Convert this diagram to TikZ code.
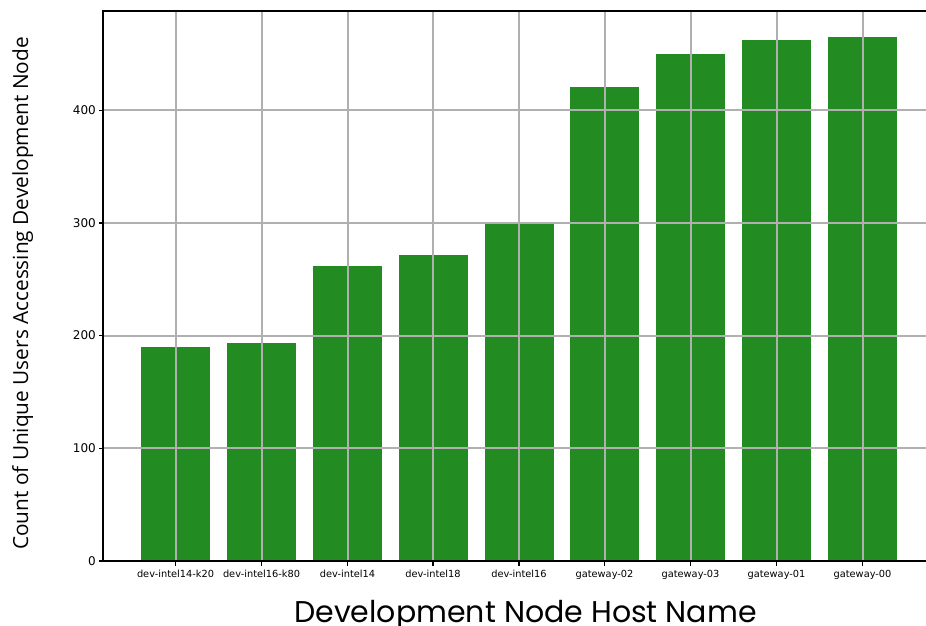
\documentclass[tikz,border=0pt]{standalone}
\usepackage{fontspec}
\setmainfont{DejaVu Sans}
\newfontfamily\ytitlefont{Open Sans}
\newfontfamily\xtitlefont{Poppins}
\definecolor{bargreen}{HTML}{228B22}
\definecolor{gridgray}{HTML}{B0B0B0}
\begin{document}
\begin{tikzpicture}[x=1pt,y=1pt,
  bar/.style={fill=bargreen,draw=none},
  gridline/.style={draw=gridgray,line width=2pt},
  spine/.style={draw=black,line width=2.2pt},
  ticklabel/.style={font=\fontsize{12}{14}\selectfont,inner sep=0pt},
  catlabel/.style={font=\fontsize{9.8}{11}\selectfont,inner sep=0pt}]
\useasboundingbox (0,0) rectangle (926,625);
% axis frame: bottom at y=64, top at y=614, left at x=103; 1 unit = 1.127pt
\def\yb{64}
\def\ys{1.127}
% bars
\foreach \c/\v in {175.5/190,261.5/193.5,347.5/262,433/271.5,519/299,604.5/420.5,690.5/450,776.5/462,862.5/465}{
  \fill[bar] (\c-34.5,\yb) rectangle (\c+34.5,{\yb+\v*\ys});
}
% grid drawn over the bars
\foreach \v in {100,200,300,400}{
  \draw[gridline] (103,{\yb+\v*\ys}) -- (926,{\yb+\v*\ys});
}
\foreach \c in {175.5,261.5,347.5,433,519,604.5,690.5,776.5,862.5}{
  \draw[gridline] (\c,\yb) -- (\c,614);
}
% spines
\draw[spine] (926,614) -- (103,614) -- (103,\yb) -- (926,\yb);
% y ticks and labels
\foreach \v in {0,100,200,300,400}{
  \draw[line width=1.2pt] (103,{\yb+\v*\ys}) -- (98.5,{\yb+\v*\ys});
  \node[ticklabel,anchor=east] (y\v) at (96,{\yb+\v*\ys}) {\v};
}
% x ticks and category labels
\foreach \c/\n [count=\i] in {175.5/dev-intel14-k20,261.5/dev-intel16-k80,347.5/dev-intel14,433/dev-intel18,519/dev-intel16,604.5/gateway-02,690.5/gateway-03,776.5/gateway-01,862.5/gateway-00}{
  \draw[line width=1.2pt] (\c,\yb) -- (\c,\yb-4.5);
  \node[catlabel,anchor=base] (x\i) at (\c,48) {\n};
}
% axis titles
\node[font=\xtitlefont\fontsize{30}{33}\selectfont,anchor=base,inner sep=0pt] (xtitle) at (525.5,2.5) {Development Node Host Name};
\node[font=\ytitlefont\fontsize{20.8}{24}\selectfont,rotate=90,anchor=base,inner sep=0pt] (ytitle) at (28,331.5) {Count of Unique Users Accessing Development Node};
\end{tikzpicture}
\end{document}
